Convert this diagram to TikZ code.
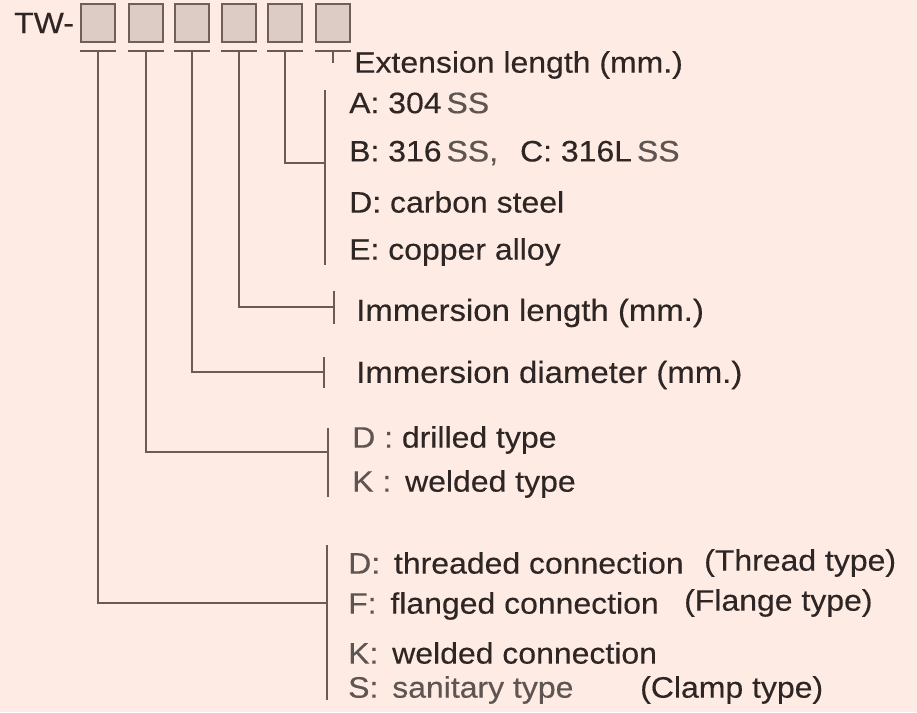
\documentclass[tikz,border=0pt]{standalone}
\usepackage{fontspec}
\setmainfont{Liberation Sans}[FakeStretch=1.08,FakeBold=0.3]
\usetikzlibrary{positioning}
\definecolor{paper}{HTML}{FDEBE4}
\definecolor{boxfill}{HTML}{DDCBC5}
\definecolor{boxline}{HTML}{6E5F5A}
\definecolor{wire}{HTML}{6E5A55}
\definecolor{ink}{HTML}{2E2624}
\definecolor{softink}{HTML}{5E5553}
\newcommand{\soft}[1]{\textcolor{softink}{#1}}
\tikzset{
  code/.style={rectangle,draw=boxline,fill=boxfill,line width=1.4pt,minimum width=34pt,minimum height=38pt,inner sep=0pt},
  lead/.style={draw=wire,line width=1.7pt},
  item/.style={anchor=west,inner sep=0pt,text=ink,font=\fontsize{29.6}{31}\selectfont},
  bigitem/.style={item,font=\fontsize{30.5}{32}\selectfont}
}

\begin{document}
\begin{tikzpicture}[x=1pt,y=-1pt]
\useasboundingbox[fill=paper] (0,0) rectangle (917,712);
% code boxes
\node[item] (tw) at (14,23) {TW-};
\node[code] (b1) at (98,23) {};
\node[code] (b2) at (146,23) {};
\node[code] (b3) at (192,23) {};
\node[code] (b4) at (239,23) {};
\node[code] (b5) at (285,23) {};
\node[code] (b6) at (333,23) {};
\foreach \i in {1,...,6} {
  \draw[lead] ([yshift=-8pt]b\i.south west) -- ([yshift=-8pt]b\i.south east);
  \coordinate (t\i) at ([yshift=-8pt]b\i.south);
}
% extension length
\node[item] (ext) at (354,65) {Extension length (mm.)};
\draw[lead] (t6) -- ++(0,12);
% material
\node[item] (mA) at (349,103) {A: 304\,\soft{SS}};
\node[item] (mB) at (349,153) {B: 316\,\soft{SS,}\hspace{22pt}C: 316L\,\soft{SS}};
\node[item] (mD) at (349,202) {D: carbon steel};
\node[item] (mE) at (349,252) {E: copper alloy};
\coordinate (k5) at (325,163);
\draw[lead] (325,90) -- (325,265);
\draw[lead] (t5) |- (k5);
% immersion length
\node[bigitem] (il) at (356,313) {Immersion length (mm.)};
\coordinate (k4) at (334,307);
\draw[lead] (334,291) -- (334,324);
\draw[lead] (t4) |- (k4);
% immersion diameter
\node[bigitem] (id) at (356,375) {Immersion diameter (mm.)};
\coordinate (k3) at (324,372);
\draw[lead] (324,357) -- (324,388);
\draw[lead] (t3) |- (k3);
% type
\node[item] (tD) at (352,440) {\soft{D :} drilled type};
\node[item] (tK) at (352,484) {\soft{K :}\, welded type};
\coordinate (k2) at (328,452);
\draw[lead] (328,428) -- (328,497);
\draw[lead] (t2) |- (k2);
% connection
\node[item] (cD) at (348,563) {\soft{D:}\, threaded connection};
\node[item] (cF) at (348,606) {\soft{F:}\, flanged connection};
\node[item] (cK) at (348,653) {\soft{K:}\, welded connection};
\node[item] (cS) at (348,690) {\soft{S:\, sanitary type}};
\node[item] (pD) at (704,563) {(Thread type)};
\node[item] (pF) at (684,603) {(Flange type)};
\node[item] (pS) at (640,690) {(Clamp type)};
\coordinate (k1) at (327,603);
\draw[lead] (327,545) -- (327,700);
\draw[lead] (t1) |- (k1);
\end{tikzpicture}
\end{document}
